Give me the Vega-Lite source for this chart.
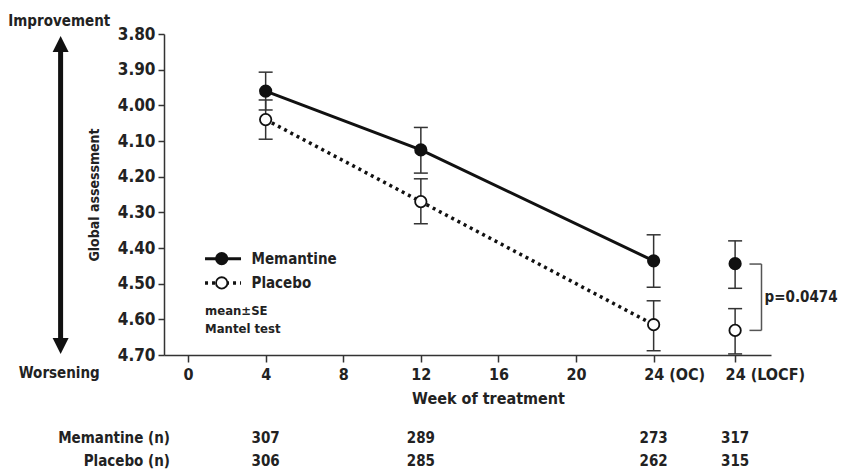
{
  "$schema": "https://vega.github.io/schema/vega-lite/v6.json",
  "width": 607,
  "height": 321,
  "autosize": {"type": "none"},
  "padding": {"left": 164, "top": 34, "right": 72, "bottom": 115},
  "config": {
    "view": {"stroke": null},
    "font": "DejaVu Sans Condensed, DejaVu Sans, sans-serif",
    "text": {"font": "DejaVu Sans Condensed, DejaVu Sans, sans-serif", "color": "#222", "fontWeight": "bold"},
    "axis": {
      "grid": false,
      "ticks": true,
      "tickWidth": 1.5,
      "tickColor": "#333",
      "tickOpacity": 1,
      "domainColor": "#333",
      "domainWidth": 1.5,
      "labelFont": "DejaVu Sans Condensed, DejaVu Sans, sans-serif",
      "labelFontWeight": "bold",
      "labelColor": "#222",
      "labelOverlap": false,
      "labelFlush": false,
      "labelBound": false,
      "titleFont": "DejaVu Sans Condensed, DejaVu Sans, sans-serif",
      "titleFontWeight": "bold",
      "titleColor": "#222",
      "zindex": 1
    },
    "axisX": {"tickSize": 7, "labelFontSize": 16, "labelPadding": 4, "titleFontSize": 16, "titlePadding": 8},
    "axisY": {"tickSize": 6, "labelFontSize": 17, "labelPadding": 3, "titleFontSize": 14, "titlePadding": 16}
  },
  "datasets": {
    "main": [
      {"group": "Memantine", "type": "OC", "week": 4, "mean": 3.96, "lo": 3.907, "hi": 4.013},
      {"group": "Memantine", "type": "OC", "week": 12, "mean": 4.125, "lo": 4.062, "hi": 4.19},
      {"group": "Memantine", "type": "OC", "week": 24, "mean": 4.436, "lo": 4.363, "hi": 4.51},
      {"group": "Memantine", "type": "LOCF", "week": 28.2, "mean": 4.444, "lo": 4.38, "hi": 4.513},
      {"group": "Placebo", "type": "OC", "week": 4, "mean": 4.04, "lo": 3.985, "hi": 4.095},
      {"group": "Placebo", "type": "OC", "week": 12, "mean": 4.27, "lo": 4.206, "hi": 4.332},
      {"group": "Placebo", "type": "OC", "week": 24, "mean": 4.615, "lo": 4.548, "hi": 4.688},
      {"group": "Placebo", "type": "LOCF", "week": 28.2, "mean": 4.631, "lo": 4.57, "hi": 4.697}
    ],
    "counts": [
      {"group": "Memantine", "week": 4, "n": 307},
      {"group": "Memantine", "week": 12, "n": 289},
      {"group": "Memantine", "week": 24, "n": 273},
      {"group": "Memantine", "week": 28.2, "n": 317},
      {"group": "Placebo", "week": 4, "n": 306},
      {"group": "Placebo", "week": 12, "n": 285},
      {"group": "Placebo", "week": 24, "n": 262},
      {"group": "Placebo", "week": 28.2, "n": 315}
    ]
  },
  "layer": [
    {
      "data": {"name": "main"},
      "mark": {"type": "rule", "color": "#333", "strokeWidth": 1.5},
      "encoding": {
        "x": {
          "field": "week", "type": "quantitative",
          "scale": {"domain": [-1.24, 30.05], "nice": false, "zero": false},
          "axis": {
            "values": [0, 4, 8, 12, 16, 20, 24, 28.2],
            "title": "Week of treatment",
            "labelExpr": "datum.value == 24 ? '24  (OC)' : datum.value > 27 ? '24  (LOCF)' : datum.label",
            "labelAlign": {"condition": {"test": "datum.value >= 24", "value": "left"}, "value": "center"},
            "labelOffset": {"condition": {"test": "datum.value >= 24", "value": -10}, "value": 0},
            "titleX": 324
          }
        },
        "y": {
          "field": "lo", "type": "quantitative",
          "scale": {"domain": [3.8, 4.7], "reverse": true, "nice": false, "zero": false},
          "axis": {
            "values": [3.8, 3.9, 4.0, 4.1, 4.2, 4.3, 4.4, 4.5, 4.6, 4.7],
            "tickCount": 10,
            "format": ".2f",
            "title": "Global assessment"
          }
        },
        "y2": {"field": "hi"}
      }
    },
    {
      "data": {"name": "main"},
      "mark": {"type": "point", "shape": "stroke", "size": 196, "filled": false, "stroke": "#333", "strokeWidth": 1.5, "opacity": 1},
      "encoding": {
        "x": {"field": "week", "type": "quantitative"},
        "y": {"field": "lo", "type": "quantitative"}
      }
    },
    {
      "data": {"name": "main"},
      "mark": {"type": "point", "shape": "stroke", "size": 196, "filled": false, "stroke": "#333", "strokeWidth": 1.5, "opacity": 1},
      "encoding": {
        "x": {"field": "week", "type": "quantitative"},
        "y": {"field": "hi", "type": "quantitative"}
      }
    },
    {
      "data": {"name": "main"},
      "transform": [{"filter": "datum.type == 'OC' && datum.group == 'Memantine'"}],
      "mark": {"type": "line", "color": "#111", "strokeWidth": 3},
      "encoding": {
        "x": {"field": "week", "type": "quantitative"},
        "y": {"field": "mean", "type": "quantitative"}
      }
    },
    {
      "data": {"name": "main"},
      "transform": [{"filter": "datum.type == 'OC' && datum.group == 'Placebo'"}],
      "mark": {"type": "line", "color": "#111", "strokeWidth": 3.5, "strokeDash": [3, 4]},
      "encoding": {
        "x": {"field": "week", "type": "quantitative"},
        "y": {"field": "mean", "type": "quantitative"}
      }
    },
    {
      "data": {"name": "main"},
      "mark": {"type": "point", "shape": "circle", "size": 130, "stroke": "#111", "strokeWidth": 1.8, "opacity": 1},
      "encoding": {
        "x": {"field": "week", "type": "quantitative"},
        "y": {"field": "mean", "type": "quantitative"},
        "fill": {"field": "group", "type": "nominal", "scale": {"domain": ["Memantine", "Placebo"], "range": ["#111", "white"]}, "legend": null}
      }
    },
    {
      "data": {"values": [{"y": 4.445}, {"y": 4.631}]},
      "mark": {"type": "rule", "color": "#555", "strokeWidth": 1.5},
      "encoding": {
        "x": {"datum": 28.94, "type": "quantitative"},
        "x2": {"datum": 29.56},
        "y": {"field": "y", "type": "quantitative"}
      }
    },
    {
      "data": {"values": [{"label": "p=0.0474"}]},
      "mark": {"type": "rule", "color": "#555", "strokeWidth": 1.5},
      "encoding": {
        "x": {"datum": 29.56, "type": "quantitative"},
        "y": {"datum": 4.445, "type": "quantitative"},
        "y2": {"datum": 4.631}
      }
    },
    {
      "data": {"values": [{"label": "p=0.0474"}]},
      "mark": {"type": "text", "align": "left", "baseline": "middle", "fontSize": 15},
      "encoding": {
        "x": {"datum": 29.72, "type": "quantitative"},
        "y": {"datum": 4.537, "type": "quantitative"},
        "text": {"field": "label"}
      }
    },
    {
      "data": {"values": [{"group": "Memantine"}]},
      "mark": {"type": "rule", "color": "#111", "strokeWidth": 3},
      "encoding": {
        "x": {"datum": 0.875, "type": "quantitative"},
        "x2": {"datum": 2.73},
        "y": {"datum": 4.43, "type": "quantitative"}
      }
    },
    {
      "data": {"values": [{"group": "Placebo"}]},
      "mark": {"type": "rule", "color": "#111", "strokeWidth": 3.5, "strokeDash": [3, 4]},
      "encoding": {
        "x": {"datum": 0.875, "type": "quantitative"},
        "x2": {"datum": 2.73},
        "y": {"datum": 4.498, "type": "quantitative"}
      }
    },
    {
      "data": {"values": [{"group": "Memantine", "ly": 4.43}, {"group": "Placebo", "ly": 4.498}]},
      "mark": {"type": "point", "shape": "circle", "size": 130, "stroke": "#111", "strokeWidth": 1.8, "opacity": 1},
      "encoding": {
        "x": {"datum": 1.735, "type": "quantitative"},
        "y": {"field": "ly", "type": "quantitative"},
        "fill": {"field": "group", "type": "nominal", "scale": {"domain": ["Memantine", "Placebo"], "range": ["#111", "white"]}, "legend": null}
      }
    },
    {
      "data": {"values": [{"group": "Memantine", "ly": 4.43}, {"group": "Placebo", "ly": 4.498}]},
      "mark": {"type": "text", "align": "left", "baseline": "middle", "fontSize": 15},
      "encoding": {
        "x": {"datum": 3.27, "type": "quantitative"},
        "y": {"field": "ly", "type": "quantitative"},
        "text": {"field": "group"}
      }
    },
    {
      "data": {"values": [{"label": "mean±SE", "ly": 4.576}, {"label": "Mantel test", "ly": 4.626}]},
      "mark": {"type": "text", "align": "left", "baseline": "middle", "fontSize": 13},
      "encoding": {
        "x": {"datum": 0.875, "type": "quantitative"},
        "y": {"field": "ly", "type": "quantitative"},
        "text": {"field": "label"}
      }
    },
    {
      "data": {"values": [{"label": "Arrow"}]},
      "mark": {"type": "rule", "color": "#111", "strokeWidth": 5},
      "encoding": {
        "x": {"datum": -6.57, "type": "quantitative"},
        "y": {"datum": 3.84, "type": "quantitative"},
        "y2": {"datum": 4.665}
      }
    },
    {
      "data": {"values": [{"label": "up"}]},
      "mark": {"type": "point", "shape": "M-1,1L0,-1L1,1Z", "size": 256, "filled": true, "color": "#111", "opacity": 1},
      "encoding": {
        "x": {"datum": -6.57, "type": "quantitative"},
        "y": {"datum": 3.828, "type": "quantitative"}
      }
    },
    {
      "data": {"values": [{"label": "down"}]},
      "mark": {"type": "point", "shape": "M-1,-1L0,1L1,-1Z", "size": 256, "filled": true, "color": "#111", "opacity": 1},
      "encoding": {
        "x": {"datum": -6.57, "type": "quantitative"},
        "y": {"datum": 4.675, "type": "quantitative"}
      }
    },
    {
      "data": {"values": [{"label": "Improvement", "ly": 3.764}, {"label": "Worsening", "ly": 4.75}]},
      "mark": {"type": "text", "align": "center", "baseline": "middle", "fontSize": 15},
      "encoding": {
        "x": {"datum": -6.64, "type": "quantitative"},
        "y": {"field": "ly", "type": "quantitative"},
        "text": {"field": "label"}
      }
    },
    {
      "data": {"values": [{"label": "Memantine (n)", "ly": 4.932}, {"label": "Placebo (n)", "ly": 4.996}]},
      "mark": {"type": "text", "align": "right", "baseline": "middle", "fontSize": 15},
      "encoding": {
        "x": {"datum": -0.93, "type": "quantitative"},
        "y": {"field": "ly", "type": "quantitative"},
        "text": {"field": "label"}
      }
    },
    {
      "data": {"name": "counts"},
      "transform": [{"filter": "datum.group == 'Memantine'"}],
      "mark": {"type": "text", "align": "center", "baseline": "middle", "fontSize": 15},
      "encoding": {
        "x": {"field": "week", "type": "quantitative"},
        "y": {"datum": 4.932, "type": "quantitative"},
        "text": {"field": "n"}
      }
    },
    {
      "data": {"name": "counts"},
      "transform": [{"filter": "datum.group == 'Placebo'"}],
      "mark": {"type": "text", "align": "center", "baseline": "middle", "fontSize": 15},
      "encoding": {
        "x": {"field": "week", "type": "quantitative"},
        "y": {"datum": 4.996, "type": "quantitative"},
        "text": {"field": "n"}
      }
    }
  ]
}
